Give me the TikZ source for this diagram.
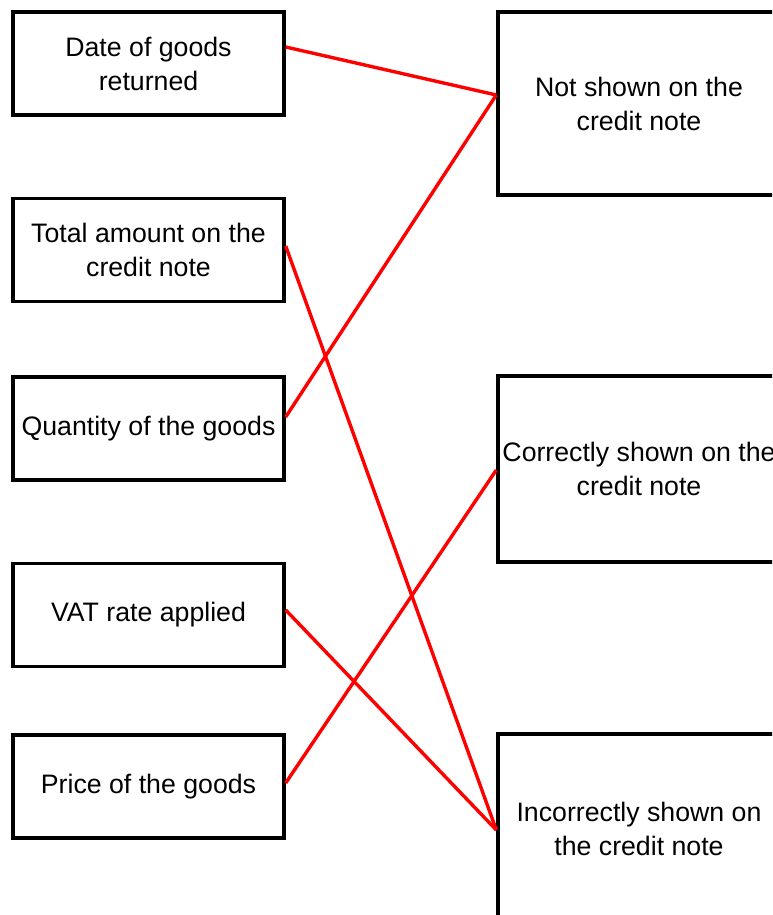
\documentclass[tikz,border=0pt]{standalone}
\usepackage{fontspec}
\setmainfont{Liberation Sans}
\begin{document}
\begin{tikzpicture}[x=1pt,y=-1pt,
  box/.style={draw=black,line width=3.4pt,inner sep=0pt,align=center,
    font=\fontsize{26.7}{34}\selectfont},
  lbox/.style={box,minimum width=271pt,minimum height=103pt},
  link/.style={draw=red,line width=3.4pt}]
\useasboundingbox (0,0) rectangle (772,915);
\clip (0,0) rectangle (772,915);
\fill[white] (0,0) rectangle (772,915);
% left boxes
\node[lbox] (b1) at (148.5,63.5) {Date of goods\\returned};
\node[lbox] (b2) at (148.5,250) {Total amount on the\\credit note};
\node[lbox] (b3) at (148.5,428.5) {Quantity of the goods};
\node[lbox] (b4) at (148.5,615) {VAT rate applied};
\node[lbox] (b5) at (148.5,786.5) {Price of the goods};
% right boxes
\node[box,minimum width=282pt,minimum height=183pt] (r1) at (639,103.5) {Not shown on the\\credit note};
\node[box,minimum width=282pt,minimum height=186pt] (r2) at (639,469) {Correctly shown on the\\credit note};
\node[box,minimum width=282pt,minimum height=190pt] (r3) at (639,829) {Incorrectly shown on\\the credit note};
% connectors
\draw[link] ([yshift=16.5pt]b1.east) -- ([yshift=8.5pt]r1.west);
\draw[link] ([yshift=11.5pt]b3.east) -- ([yshift=8.5pt]r1.west);
\draw[link] ([yshift=4pt]b2.east) -- ([yshift=-1pt]r3.west);
\draw[link] ([yshift=5pt]b4.east) -- ([yshift=-1pt]r3.west);
\draw[link] ([yshift=3.5pt]b5.east) -- ([yshift=-1pt]r2.west);
\end{tikzpicture}
\end{document}
